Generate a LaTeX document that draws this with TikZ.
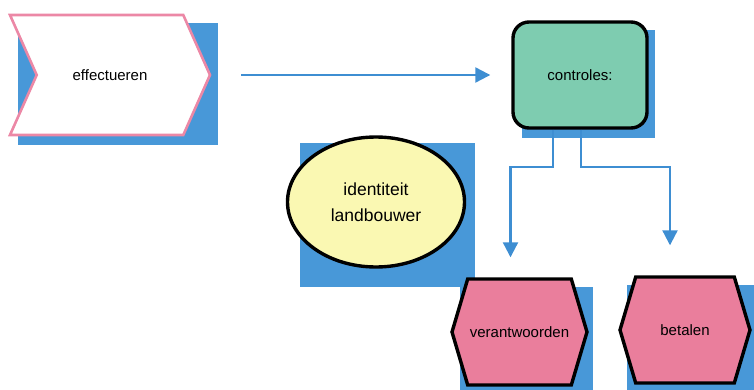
\documentclass[tikz,border=0pt]{standalone}
\usepackage{fontspec}
\setmainfont{Liberation Sans}
\usetikzlibrary{shapes.geometric,shapes.symbols,arrows.meta}
\definecolor{shadowBlue}{RGB}{72,152,216}
\definecolor{lineBlue}{RGB}{62,142,210}
\definecolor{roseFill}{RGB}{234,126,156}
\definecolor{pinkLine}{RGB}{236,136,166}
\definecolor{tealFill}{RGB}{126,204,176}
\definecolor{lemonFill}{RGB}{250,248,178}
\tikzstyle{shadowBox}=[fill = shadowBlue, draw = none]
\tikzstyle{flowEdge}=[draw = lineBlue, line width = 2.2pt, -{Triangle[length = 15pt, width = 15pt]}]

\begin{document}
\begin{tikzpicture}[x = 1pt, y = -1pt]
\tikzstyle{labeledChevron}=[signal, signal to = east, signal from = west, signal pointer angle = 132, minimum width = 200pt, minimum height = 120pt, inner sep = 0pt, draw = pinkLine, line width = 2.6pt, fill = white, font = \fontsize{15}{17}\selectfont]
\tikzstyle{labeledRound}=[shape = rectangle, rounded corners = 16pt, minimum width = 134pt, minimum height = 106pt, draw, line width = 3.4pt, fill = tealFill, font = \fontsize{15}{17}\selectfont]
\tikzstyle{labeledOval}=[shape = ellipse, minimum width = 177pt, minimum height = 130pt, inner sep = 0pt, draw, line width = 3.4pt, fill = lemonFill, align = center, font = \fontsize{17.5}{26}\selectfont]
\tikzstyle{labeledHex}=[signal, signal to = east and west, signal pointer angle = 147, minimum height = 106pt, inner sep = 0pt, draw, line width = 3.4pt, fill = roseFill, font = \fontsize{15}{17}\selectfont]
\useasboundingbox (0,0) rectangle (754,390);
\fill[shadowBox] (18,23) rectangle (218,145);
\fill[shadowBox] (522,30) rectangle (655,138);
\fill[shadowBox] (300,143) rectangle (475,287);
\fill[shadowBox] (460,287) rectangle (593,392);
\fill[shadowBox] (627,285) rectangle (756,392);
\node[labeledChevron] (v0) at (110,75) {effectueren};
\node[labeledRound] (v1) at (580,75) {controles:};
\node[labeledOval] (v2) at (376,202) {identiteit\\landbouwer};
\node[labeledHex, minimum width = 135pt] (v3) at (519.5,332) {verantwoorden};
\node[labeledHex, minimum width = 130pt] (v4) at (685,330) {betalen};
\draw[flowEdge, shorten < = 30pt, shorten > = 21pt] (v0.east) -- (v1.west);
\draw[flowEdge, shorten > = 20pt] ([xshift = -27pt]v1.south) -- ++(0,37) -| ([xshift = -9pt]v3.north);
\draw[flowEdge, shorten > = 30pt] ([xshift = 1pt]v1.south) -- ++(0,37) -| ([xshift = -15pt]v4.north);
\end{tikzpicture}
\end{document}
